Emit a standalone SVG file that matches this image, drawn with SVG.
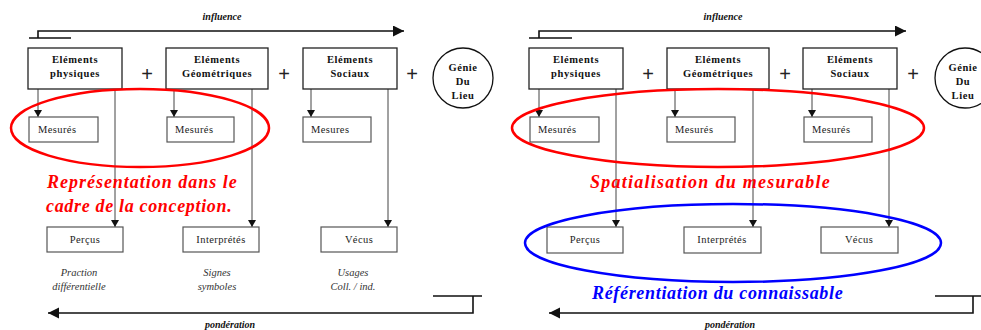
<svg xmlns="http://www.w3.org/2000/svg" width="981" height="330" viewBox="0 0 981 330">
<defs>
<style>
.box{fill:#fff;stroke:#222;stroke-width:1.3}
.sbox{fill:#fff;stroke:#555;stroke-width:1.2}
.bt{font-family:"Liberation Serif",serif;font-weight:bold;font-size:10.5px;letter-spacing:0.6px;text-anchor:middle;fill:#111}
.st{font-family:"Liberation Serif",serif;font-size:10.5px;letter-spacing:0.4px;fill:#222}
.ct{text-anchor:middle}
.it{font-family:"Liberation Serif",serif;font-style:italic;font-size:10.5px;text-anchor:middle;fill:#333}
.hd{font-family:"Liberation Serif",serif;font-style:italic;font-weight:bold;font-size:10px;text-anchor:middle;fill:#111}
.plus{font-family:"Liberation Sans",sans-serif;font-size:20px;text-anchor:middle;fill:#222}
.conn{stroke:#444;stroke-width:1;fill:none}
.flow{stroke:#111;stroke-width:1.6;fill:none}
.script{font-family:"Liberation Serif",serif;font-style:italic;font-weight:bold;font-size:18px;letter-spacing:0.3px}
</style>
<marker id="ah" markerUnits="userSpaceOnUse" markerWidth="8" markerHeight="8" refX="7" refY="4" orient="auto">
<path d="M0,0 L7,4 L0,8 Z" fill="#111"/>
</marker>
<marker id="big" markerUnits="userSpaceOnUse" markerWidth="12" markerHeight="12" refX="11" refY="5.5" orient="auto">
<path d="M0,0 L11,5.5 L0,11 Z" fill="#111"/>
</marker>
</defs>

<g id="connectors">
<!-- left panel -->
<path class="flow" d="M29,38 H71 M38,38 V31 H404" marker-end="url(#big)"/>
<path class="flow" d="M433,296 H482 M473,296 V313 H48" marker-end="url(#big)"/>
<line class="conn" x1="38" y1="89" x2="38" y2="117" marker-end="url(#ah)"/>
<line class="conn" x1="115" y1="89" x2="115" y2="227" marker-end="url(#ah)"/>
<line class="conn" x1="174" y1="89" x2="174" y2="117" marker-end="url(#ah)"/>
<line class="conn" x1="252" y1="89" x2="252" y2="227" marker-end="url(#ah)"/>
<line class="conn" x1="311" y1="89" x2="311" y2="117" marker-end="url(#ah)"/>
<line class="conn" x1="388" y1="89" x2="388" y2="227" marker-end="url(#ah)"/>
<!-- right panel -->
<path class="flow" d="M529,38 H572 M539,38 V31 H906" marker-end="url(#big)"/>
<path class="flow" d="M935,296 H981 M973,296 V313 H549" marker-end="url(#big)"/>
<line class="conn" x1="539" y1="89" x2="539" y2="117" marker-end="url(#ah)"/>
<line class="conn" x1="616" y1="89" x2="616" y2="227" marker-end="url(#ah)"/>
<line class="conn" x1="675" y1="89" x2="675" y2="117" marker-end="url(#ah)"/>
<line class="conn" x1="753" y1="89" x2="753" y2="227" marker-end="url(#ah)"/>
<line class="conn" x1="812" y1="89" x2="812" y2="117" marker-end="url(#ah)"/>
<line class="conn" x1="889" y1="89" x2="889" y2="227" marker-end="url(#ah)"/>
</g>

<!-- Left panel -->
<text class="hd" x="222" y="20">influence</text>
<text class="hd" x="230" y="328">pondération</text>

<g id="L-phys"><rect class="box" x="28" y="48" width="94" height="41"/><text class="bt" x="75" y="63">Eléments</text><text class="bt" x="75" y="77">physiques</text></g>
<text class="plus" x="147" y="81">+</text>
<g id="L-geom"><rect class="box" x="166" y="48" width="102" height="41"/><text class="bt" x="217" y="63">Eléments</text><text class="bt" x="217" y="77">Géométriques</text></g>
<text class="plus" x="284" y="81">+</text>
<g id="L-soc"><rect class="box" x="303" y="48" width="94" height="41"/><text class="bt" x="350" y="63">Eléments</text><text class="bt" x="350" y="77">Sociaux</text></g>
<text class="plus" x="412" y="81">+</text>
<g id="L-genie"><circle cx="463" cy="78" r="30" fill="#fff" stroke="#111" stroke-width="1.3"/><text class="bt" x="463" y="71">Génie</text><text class="bt" x="463" y="85">Du</text><text class="bt" x="463" y="99">Lieu</text></g>

<g id="L-mes1"><rect class="sbox" x="29" y="117" width="69" height="25"/><text class="st" x="38" y="133">Mesurés</text></g>
<g id="L-mes2"><rect class="sbox" x="167" y="117" width="67" height="25"/><text class="st" x="175" y="133">Mesurés</text></g>
<g id="L-mes3"><rect class="sbox" x="303" y="117" width="68" height="25"/><text class="st" x="311" y="133">Mesures</text></g>

<g id="L-per"><rect class="sbox" x="47" y="227" width="76" height="25"/><text class="st ct" x="85" y="243">Perçus</text></g>
<g id="L-int"><rect class="sbox" x="183" y="227" width="76" height="25"/><text class="st ct" x="221" y="243">Interprétés</text></g>
<g id="L-vec"><rect class="sbox" x="321" y="227" width="76" height="25"/><text class="st ct" x="359" y="243">Vécus</text></g>

<text class="it" x="79" y="276">Praction</text><text class="it" x="79" y="290">différentielle</text>
<text class="it" x="217" y="276">Signes</text><text class="it" x="217" y="290">symboles</text>
<text class="it" x="353" y="276">Usages</text><text class="it" x="353" y="290">Coll. / ind.</text>

<ellipse cx="140" cy="128" rx="129" ry="39" fill="none" stroke="#ff0000" stroke-width="2.5"/>
<text class="script" fill="#ff0000" x="47" y="188" textLength="190">Représentation dans le</text>
<text class="script" fill="#ff0000" x="46" y="212" textLength="186">cadre de la conception.</text>

<!-- Right panel -->
<text class="hd" x="723" y="20">influence</text>
<text class="hd" x="730" y="328">pondération</text>

<g id="R-phys"><rect class="box" x="529" y="48" width="94" height="41"/><text class="bt" x="576" y="63">Eléments</text><text class="bt" x="576" y="77">physiques</text></g>
<text class="plus" x="648" y="81">+</text>
<g id="R-geom"><rect class="box" x="667" y="48" width="102" height="41"/><text class="bt" x="718" y="63">Eléments</text><text class="bt" x="718" y="77">Géométriques</text></g>
<text class="plus" x="785" y="81">+</text>
<g id="R-soc"><rect class="box" x="803" y="48" width="94" height="41"/><text class="bt" x="850" y="63">Eléments</text><text class="bt" x="850" y="77">Sociaux</text></g>
<text class="plus" x="913" y="81">+</text>
<g id="R-genie"><circle cx="965" cy="78" r="30" fill="#fff" stroke="#111" stroke-width="1.3"/><text class="bt" x="963" y="71">Génie</text><text class="bt" x="963" y="85">Du</text><text class="bt" x="963" y="99">Lieu</text></g>

<g id="R-mes1"><rect class="sbox" x="530" y="117" width="69" height="25"/><text class="st" x="538" y="133">Mesurés</text></g>
<g id="R-mes2"><rect class="sbox" x="667" y="117" width="68" height="25"/><text class="st" x="675" y="133">Mesurés</text></g>
<g id="R-mes3"><rect class="sbox" x="804" y="117" width="68" height="25"/><text class="st" x="812" y="133">Mesurés</text></g>

<g id="R-per"><rect class="sbox" x="547" y="227" width="76" height="26"/><text class="st ct" x="585" y="243">Perçus</text></g>
<g id="R-int"><rect class="sbox" x="684" y="227" width="77" height="26"/><text class="st ct" x="722" y="243">Interprétés</text></g>
<g id="R-vec"><rect class="sbox" x="821" y="227" width="77" height="26"/><text class="st ct" x="859" y="243">Vécus</text></g>

<ellipse cx="718" cy="128" rx="206" ry="39" fill="none" stroke="#ff0000" stroke-width="2.5"/>
<text class="script" fill="#ff0000" x="590" y="188" textLength="240">Spatialisation du mesurable</text>
<ellipse cx="733" cy="243" rx="208" ry="39" fill="none" stroke="#0000ff" stroke-width="2.5"/>
<text class="script" fill="#0000ff" x="592" y="299" textLength="251">Référentiation du connaissable</text>
</svg>
